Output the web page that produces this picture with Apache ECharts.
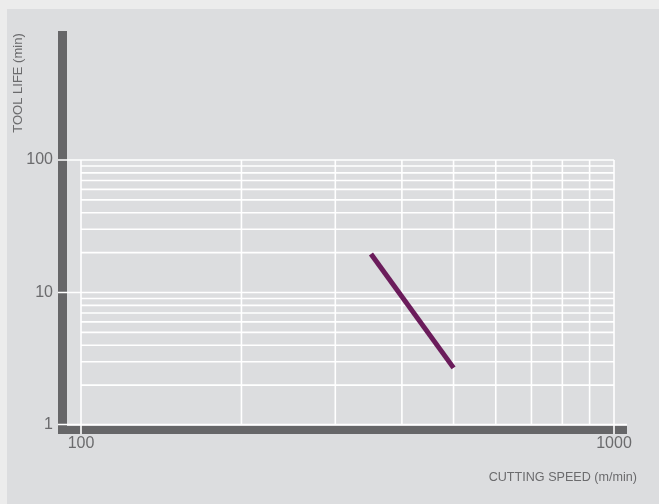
<!DOCTYPE html>
<html>
<head>
<meta charset="utf-8">
<script src="https://cdn.jsdelivr.net/npm/echarts@6/dist/echarts.min.js"></script>
<style>
  html, body { margin: 0; padding: 0; background: #ececec; }
  #chart { width: 659px; height: 504px; }
</style>
</head>
<body>
<div id="chart"></div>
<script>
// Cutting speed (m/min) vs tool life (min), log-log
const speedData = [350, 500];
const lifeData = [19.5, 2.7];

// Grid line positions
const speedGrid = [100, 200, 300, 400, 500, 600, 700, 800, 900, 1000];
const speedDecades = [100, 1000];
const lifeGrid = [2, 3, 4, 5, 6, 7, 8, 9, 20, 30, 40, 50, 60, 70, 80, 90];
const lifeDecades = [1, 10, 100];

const xTitle = 'CUTTING SPEED (m/min)';
const yTitle = 'TOOL LIFE (min)';

const FONT = '"Liberation Sans", Arial, sans-serif';
const TEXT = '#6b6b6d';
const BAR = '#666668';
const GRIDC = '#ffffff';

const chart = echarts.init(document.getElementById('chart'), null, { renderer: 'canvas' });

chart.setOption({
  animation: false,
  backgroundColor: '#dcdddf',
  grid: { left: 81, right: 45, top: 160, bottom: 79 },
  xAxis: {
    type: 'log', logBase: 10, min: 100, max: 1000,
    axisLine: { show: false }, axisTick: { show: false }, splitLine: { show: false },
    axisLabel: {
      margin: 11, fontSize: 16, color: TEXT, fontFamily: FONT,
      formatter: v => String(Math.round(v))
    }
  },
  yAxis: {
    type: 'log', logBase: 10, min: 1, max: 100,
    axisLine: { show: false }, axisTick: { show: false }, splitLine: { show: false },
    axisLabel: {
      margin: 28, fontSize: 16, color: TEXT, fontFamily: FONT,
      formatter: v => String(Math.round(v))
    }
  },
  series: [{
    type: 'line',
    data: speedData.map((s, i) => [s, lifeData[i]]),
    symbol: 'none',
    z: 10,
    lineStyle: { color: '#6b1c5b', width: 5, cap: 'butt' }
  }]
});

// Frame, axis bars and grid lines, placed through the axis scales
const px = v => chart.convertToPixel({ xAxisIndex: 0 }, v);
const py = v => chart.convertToPixel({ yAxisIndex: 0 }, v);

const x0 = px(100), x1 = px(1000);
const yTop = py(100), yBot = py(1);
const barL = x0 - 23;

const g = [];
// light outer margin
g.push({ type: 'rect', shape: { x: 0, y: 0, width: 659, height: 9 }, style: { fill: '#ececec' }, z: -5, silent: true });
g.push({ type: 'rect', shape: { x: 0, y: 0, width: 7, height: 504 }, style: { fill: '#ececec' }, z: -5, silent: true });
// axis bars
g.push({ type: 'rect', shape: { x: barL, y: 31, width: 9, height: yBot + 9 - 31 }, style: { fill: BAR }, z: 0, silent: true });
g.push({ type: 'rect', shape: { x: barL, y: yBot + 1, width: x1 + 13 - barL, height: 8 }, style: { fill: BAR }, z: 0, silent: true });

const lw = 1.6;
// vertical lines
speedGrid.forEach(v => {
  const x = px(v);
  const bottom = speedDecades.includes(v) ? yBot + 9 : yBot;
  g.push({ type: 'line', shape: { x1: x, y1: yTop, x2: x, y2: bottom }, style: { stroke: GRIDC, lineWidth: lw }, z: 1, silent: true });
});
// minor horizontal lines
lifeGrid.forEach(v => {
  const y = py(v);
  g.push({ type: 'line', shape: { x1: x0, y1: y, x2: x1, y2: y }, style: { stroke: GRIDC, lineWidth: lw }, z: 1, silent: true });
});
// decade horizontal lines
lifeDecades.forEach(v => {
  const y = py(v) - (v === 1 ? 0.5 : 0);
  const right = v === 1 ? x1 + 13 : x1;
  g.push({ type: 'line', shape: { x1: barL, y1: y, x2: right, y2: y }, style: { stroke: GRIDC, lineWidth: lw }, z: 1, silent: true });
});
// axis titles
g.push({
  type: 'text', x: 637, y: 478,
  style: { text: xTitle, fill: TEXT, font: '12.6px ' + FONT, align: 'right', verticalAlign: 'middle' },
  z: 2, silent: true
});
g.push({
  type: 'text', x: 18.5, y: 83, rotation: Math.PI / 2,
  style: { text: yTitle, fill: TEXT, font: '13px ' + FONT, align: 'center', verticalAlign: 'middle' },
  z: 2, silent: true
});

chart.setOption({ graphic: g });
</script>
</body>
</html>
